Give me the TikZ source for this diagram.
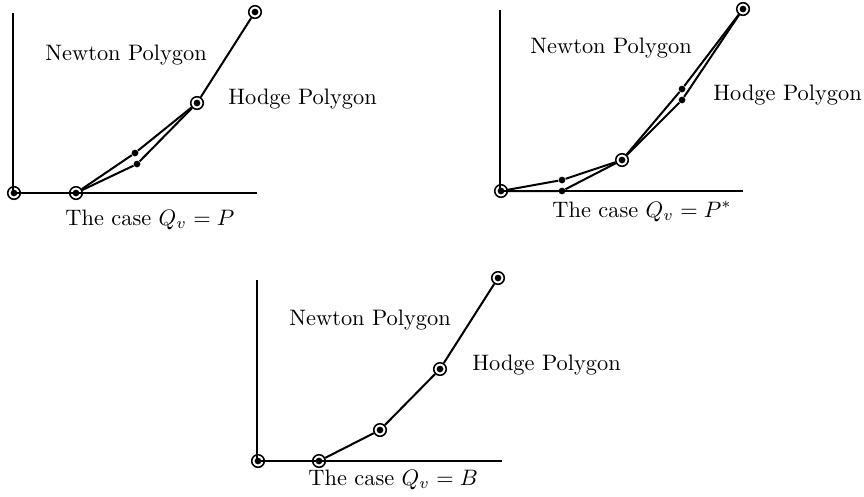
\documentclass[tikz,border=0pt]{standalone}
\begin{document}
\begin{tikzpicture}[x=0.447pt,y=-0.447pt,
  ax/.style={line width=0.7pt},
  poly/.style={line width=0.9pt},
  circ/.style={circle,draw,line width=0.7pt,minimum size=5.6pt,inner sep=0pt,
    path picture={\fill (path picture bounding box.center) circle (1.5pt);}},
  dotp/.style={circle,fill,minimum size=3pt,inner sep=0pt},
  lbl/.style={anchor=base west,inner sep=0pt}]
\useasboundingbox (0,0) rectangle (864,496);
% Panel 1
\coordinate (t1) at (13,13);
\coordinate (o1) at (13,193);
\coordinate (r1) at (257,193);
\draw[ax] (t1) -- (o1) -- (r1);
\node[circ] (p10) at (14,193) {};
\node[circ] (p11) at (76,193) {};
\node[dotp] (p12a) at (135,153) {};
\node[dotp] (p12b) at (137,164) {};
\node[circ] (p13) at (197,103) {};
\node[circ] (p14) at (255,12) {};
\draw[poly] (p11) -- (p12a) -- (p13);
\draw[poly] (p11) -- (p12b) -- (p13);
\draw[poly] (p13) -- (p14);
\node[lbl] (n1) at (45,60) {Newton Polygon};
\node[lbl] (h1) at (228,104) {Hodge Polygon};
\node[lbl] (c1) at (65,225) {The case $Q_v=P$};
% Panel 2
\coordinate (t2) at (500,10);
\coordinate (o2) at (500,191);
\coordinate (r2) at (743,191);
\draw[ax] (t2) -- (o2) -- (r2);
\node[circ] (p20) at (501,191) {};
\node[dotp] (p21a) at (562,180) {};
\node[dotp] (p21b) at (562,191) {};
\node[circ] (p22) at (622,160) {};
\node[dotp] (p23a) at (682,89) {};
\node[dotp] (p23b) at (682,100) {};
\node[circ] (p24) at (743,9) {};
\draw[poly] (p20) -- (p21a) -- (p22);
\draw[poly] (p20) -- (p21b) -- (p22);
\draw[poly] (p22) -- (p23a) -- (p24);
\draw[poly] (p22) -- (p23b) -- (p24);
\node[lbl] (n2) at (530,53) {Newton Polygon};
\node[lbl] (h2) at (713,100) {Hodge Polygon};
\node[lbl] (c2) at (552,217) {The case $Q_v=P^*$};
% Panel 3
\coordinate (t3) at (257,280);
\coordinate (o3) at (257,461);
\coordinate (r3) at (502,461);
\draw[ax] (t3) -- (o3) -- (r3);
\node[circ] (p30) at (258,461) {};
\node[circ] (p31) at (319,461) {};
\node[circ] (p32) at (380,430) {};
\node[circ] (p33) at (440,369) {};
\node[circ] (p34) at (498,278) {};
\draw[poly] (p31) -- (p32) -- (p33) -- (p34);
\node[lbl] (n3) at (289,325) {Newton Polygon};
\node[lbl] (h3) at (472,370) {Hodge Polygon};
\node[lbl] (c3) at (308,485) {The case $Q_v=B$};
\end{tikzpicture}
\end{document}
